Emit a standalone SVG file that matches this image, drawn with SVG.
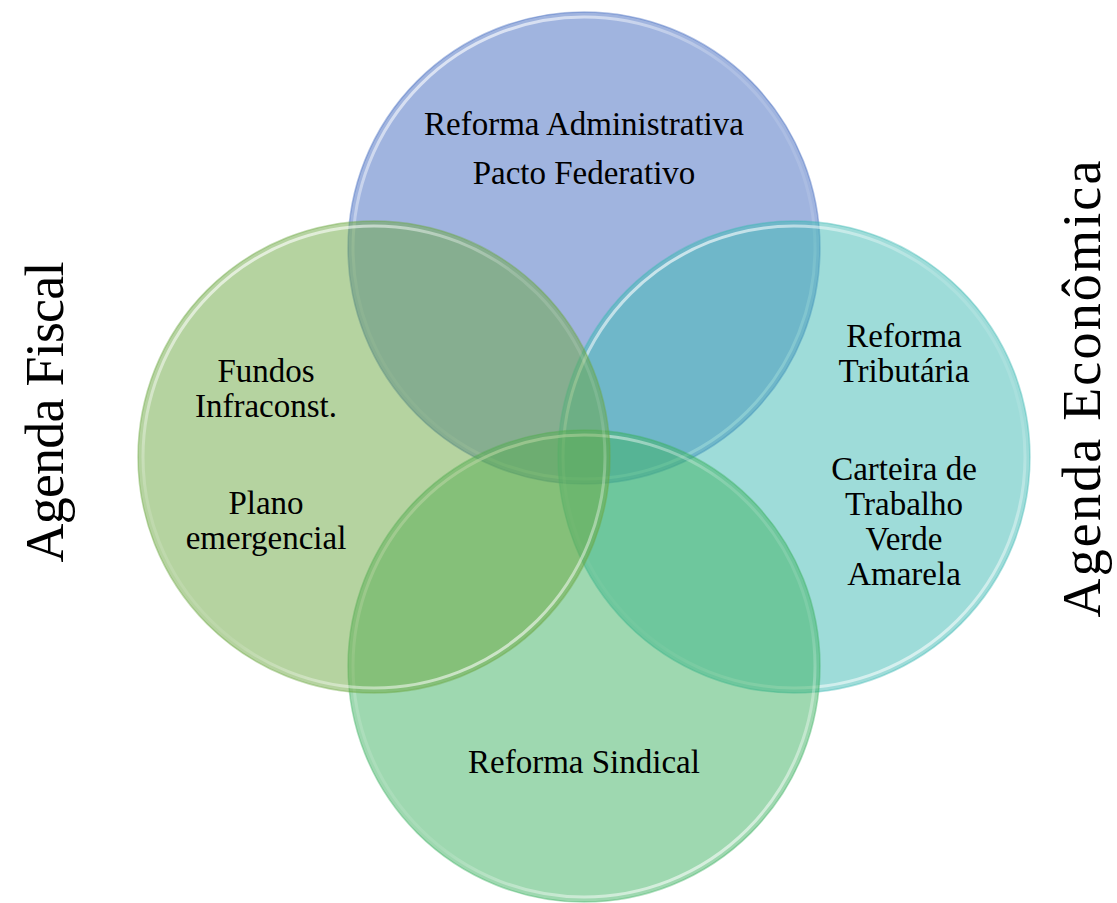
<svg xmlns="http://www.w3.org/2000/svg" width="1117" height="903" viewBox="0 0 1117 903">
  <style>
    .lbl { font-family: "Liberation Serif", "Times New Roman", serif; font-size: 33px; fill: #000; text-anchor: middle; }
    .side { font-family: "Liberation Serif", "Times New Roman", serif; font-size: 54px; fill: #000; text-anchor: middle; }
    .fill { fill-opacity: 0.5; stroke-width: 1.5; stroke-opacity: 0.4; }
    .hl { fill: none; stroke: url(#gloss); stroke-width: 3; }
  </style>
  <defs>
    <linearGradient id="gloss" x1="0.2" y1="0" x2="0.8" y2="1">
      <stop offset="0" stop-color="#ffffff" stop-opacity="0.75"/>
      <stop offset="0.35" stop-color="#ffffff" stop-opacity="0.15"/>
      <stop offset="0.65" stop-color="#ffffff" stop-opacity="0.1"/>
      <stop offset="1" stop-color="#ffffff" stop-opacity="0.7"/>
    </linearGradient>
  </defs>
  <rect width="1117" height="903" fill="#ffffff"/>

  <g id="node-top">
    <circle class="fill" cx="584" cy="248" r="236" fill="#4169BF" stroke="#4169BF"/>
    <circle class="hl" cx="584" cy="248" r="231"/>
    <text class="lbl" x="584" y="135">Reforma Administrativa</text>
    <text class="lbl" x="584" y="184">Pacto Federativo</text>
  </g>

  <g id="node-right">
    <circle class="fill" cx="794" cy="457" r="236" fill="#3DB9B3" stroke="#3DB9B3"/>
    <circle class="hl" cx="794" cy="457" r="231"/>
    <text class="lbl" x="904" y="347">Reforma</text>
    <text class="lbl" x="904" y="382">Tributária</text>
    <text class="lbl" x="904" y="480">Carteira de</text>
    <text class="lbl" x="904" y="515">Trabalho</text>
    <text class="lbl" x="904" y="550">Verde</text>
    <text class="lbl" x="904" y="585">Amarela</text>
  </g>

  <g id="node-bottom">
    <circle class="fill" cx="584" cy="666" r="236" fill="#3DB161" stroke="#3DB161"/>
    <circle class="hl" cx="584" cy="666" r="231"/>
    <text class="lbl" x="584" y="773">Reforma Sindical</text>
  </g>

  <g id="node-left">
    <circle class="fill" cx="374" cy="457" r="236" fill="#6BA741" stroke="#6BA741"/>
    <circle class="hl" cx="374" cy="457" r="231"/>
    <text class="lbl" x="266" y="382">Fundos</text>
    <text class="lbl" x="266" y="417">Infraconst.</text>
    <text class="lbl" x="266" y="514">Plano</text>
    <text class="lbl" x="266" y="549">emergencial</text>
  </g>

  <g id="connectors"></g>

  <g id="label-fiscal">
    <text class="side" transform="translate(63,412) rotate(-90)" x="0" y="0" textLength="301">Agenda Fiscal</text>
  </g>
  <g id="label-economica">
    <text class="side" transform="translate(1100,389) rotate(-90)" x="0" y="0" textLength="457">Agenda Econômica</text>
  </g>
</svg>
